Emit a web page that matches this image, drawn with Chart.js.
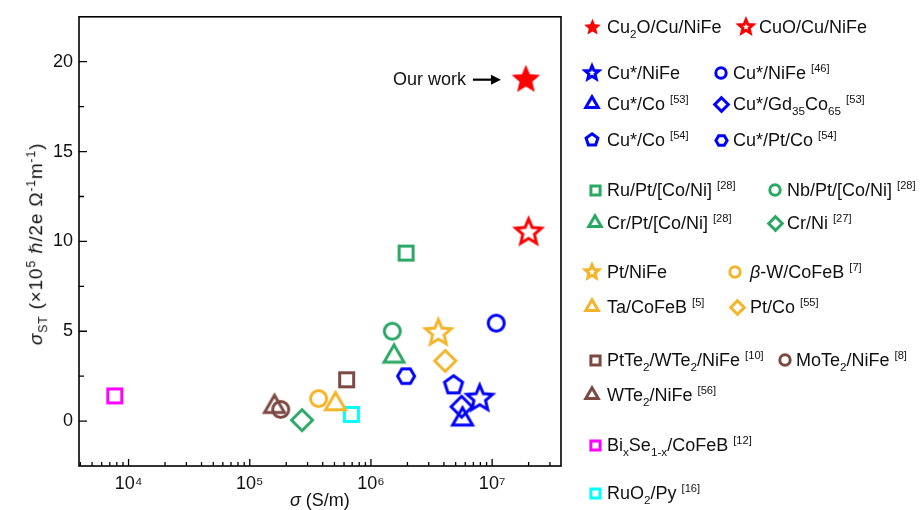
<!DOCTYPE html>
<html lang="en">
<head>
<meta charset="UTF-8">
<title>Charge-to-spin conductivity</title>
<script src="https://cdn.jsdelivr.net/npm/chart.js"></script>
<style>
  body { margin: 0; background: #fff; font-family: "Liberation Sans", Arial, sans-serif; }
  #wrap { position: relative; width: 920px; height: 510px; overflow: hidden; }
  #chart { position: absolute; left: 0; top: 0; }
  .lg { position: absolute; font-size: 18px; line-height: 20px; white-space: nowrap; color: #111; }
  .lg sub, .lg sup, .ttl sub, .ttl sup { font-size: 0.65em; line-height: 0; }
  .lg .ref { font-size: 0.62em; vertical-align: 0.65em; line-height: 0; }
  .mk { position: absolute; }
  .ttl { position: absolute; font-size: 18px; white-space: nowrap; color: #111; }
  #ytitle { font-size: 19px; letter-spacing: 0.8px; }
  .hbar { font-family: "DejaVu Sans", sans-serif; font-style: italic; font-size: 0.95em; }
</style>
</head>
<body>
<div id="wrap">
  <canvas id="chart" width="920" height="510"></canvas>
</div>

<script>
// data
var seriesNames = [
  'Cu<sub>2</sub>O/Cu/NiFe', 'CuO/Cu/NiFe',
  'Cu*/NiFe', 'Cu*/NiFe', 'Cu*/Co', 'Cu*/Gd<sub>35</sub>Co<sub>65</sub>', 'Cu*/Co', 'Cu*/Pt/Co',
  'Ru/Pt/[Co/Ni]', 'Nb/Pt/[Co/Ni]', 'Cr/Pt/[Co/Ni]', 'Cr/Ni',
  'Pt/NiFe', '<i>&beta;</i>-W/CoFeB', 'Ta/CoFeB', 'Pt/Co',
  'PtTe<sub>2</sub>/WTe<sub>2</sub>/NiFe', 'MoTe<sub>2</sub>/NiFe', 'WTe<sub>2</sub>/NiFe',
  'Bi<sub>x</sub>Se<sub>1-x</sub>/CoFeB', 'RuO<sub>2</sub>/Py'
];
var seriesRefs = ['', '', '', '46', '53', '53', '54', '54', '28', '28', '28', '27',
  '', '7', '5', '55', '10', '8', '56', '12', '16'];
var sigmaValues = [1.9e7, 2.0e7, 7.9e6, 1.08e7, 5.7e6, 5.6e6, 4.8e6, 1.95e6,
  1.95e6, 1.5e6, 1.55e6, 2.7e5, 3.6e6, 3.7e5, 5.1e5, 4.1e6,
  6.3e5, 1.8e5, 1.6e5, 7.7e3, 6.9e5];
var sigmaSTValues = [19.0, 10.5, 1.25, 5.45, 0.1, 0.8, 2.0, 2.5,
  9.35, 5.0, 3.6, 0.05, 4.9, 1.25, 0.95, 3.35,
  2.3, 0.65, 0.8, 1.4, 0.37];
var yTicks = [0, 5, 10, 15, 20];
var xDecades = [3, 4, 5, 6, 7];

// styles
var RED = '#ff0000', BLUE = '#0000ff', GREEN = '#2ca865', YEL = '#f5b52a',
    BRN = '#7d4a42', MAG = '#ff00ff', CYA = '#00ffff';
var seriesColors = [RED, RED, BLUE, BLUE, BLUE, BLUE, BLUE, BLUE,
  GREEN, GREEN, GREEN, GREEN, YEL, YEL, YEL, YEL, BRN, BRN, BRN, MAG, CYA];
var seriesShapes = ['star', 'star', 'star', 'circle', 'triangle', 'diamond', 'pentagon', 'hexagon',
  'square', 'circle', 'triangle', 'diamond', 'star', 'circle', 'triangle', 'diamond',
  'square', 'circle', 'triangle', 'square', 'square'];
var seriesFilled = [true];
// legend layout: [marker x, text x, y]
var legendPos = [
  [592, 607, 27], [746, 759, 27],
  [592, 607, 73], [721, 733, 73],
  [592, 607, 104], [721, 733, 104],
  [592, 607, 140], [721, 733, 140],
  [595, 607, 190], [775, 787, 190],
  [595, 607, 223], [775, 787, 223],
  [592, 607, 272], [735, 750, 272],
  [592, 607, 307], [737, 750, 307],
  [595, 607, 360], [785, 796, 360],
  [592, 607, 395],
  [595, 607, 445],
  [595, 607, 493]
];

// marker sizes
var plotSize = { star: 13.5, circle: 8, square: 7, triangle: 11.5, diamond: 10.5, pentagon: 9.5, hexagon: 8.5 };
var legendSize = { star: 7.2, circle: 5.2, square: 4.6, triangle: 7.2, diamond: 6.8, pentagon: 6.2, hexagon: 5.6 };

function makeMarker(shape, color, filled, r, lw) {
  var size = Math.ceil(2 * r + lw * 3 + 4);
  var c = document.createElement('canvas');
  c.width = size; c.height = size;
  var ctx = c.getContext('2d');
  ctx.translate(size / 2, size / 2);
  ctx.beginPath();
  var i, a, n;
  if (shape === 'circle') {
    ctx.arc(0, 0, r, 0, Math.PI * 2);
  } else if (shape === 'square') {
    ctx.rect(-r, -r, 2 * r, 2 * r);
  } else if (shape === 'diamond') {
    ctx.moveTo(0, -r); ctx.lineTo(r, 0); ctx.lineTo(0, r); ctx.lineTo(-r, 0);
  } else if (shape === 'star') {
    for (i = 0; i < 10; i++) {
      a = -Math.PI / 2 + i * Math.PI / 5;
      var rr = i % 2 ? r * 0.45 : r;
      ctx.lineTo(rr * Math.cos(a), rr * Math.sin(a));
    }
  } else {
    n = shape === 'triangle' ? 3 : shape === 'pentagon' ? 5 : 6;
    var start = shape === 'hexagon' ? 0 : -Math.PI / 2;
    for (i = 0; i < n; i++) {
      a = start + i * 2 * Math.PI / n;
      ctx.lineTo(r * Math.cos(a), r * Math.sin(a));
    }
  }
  ctx.closePath();
  if (filled) {
    ctx.fillStyle = color;
    ctx.fill();
  } else {
    ctx.lineWidth = lw;
    ctx.lineJoin = 'miter';
    ctx.miterLimit = 4;
    ctx.strokeStyle = color;
    ctx.stroke();
  }
  return c;
}

function plainText(html) {
  var d = document.createElement('div');
  d.innerHTML = html;
  return d.textContent;
}

var datasets = seriesNames.map(function (name, i) {
  var filled = !!seriesFilled[i];
  var r = plotSize[seriesShapes[i]] + (filled ? 1.5 : 0);
  return {
    label: plainText(name),
    data: [{ x: sigmaValues[i], y: sigmaSTValues[i] }],
    pointStyle: makeMarker(seriesShapes[i], seriesColors[i], filled, r, 3),
    borderColor: seriesColors[i],
    backgroundColor: seriesColors[i]
  };
});

var FONT = '"Liberation Sans", Arial, sans-serif';
var supDigits = { '3': '\u00b3', '4': '\u2074', '5': '\u2075', '6': '\u2076', '7': '\u2077' };

// frame, inward ticks and the "Our work" note
var framePlugin = {
  id: 'frame',
  beforeDatasetsDraw: function (chart) {
    var ctx = chart.ctx, a = chart.chartArea;
    var xs = chart.scales.x, ys = chart.scales.y;
    ctx.save();
    ctx.strokeStyle = '#000';
    ctx.lineWidth = 1.6;
    ctx.strokeRect(a.left, a.top, a.right - a.left, a.bottom - a.top);
    ctx.lineWidth = 1.3;
    ctx.beginPath();
    xs.ticks.forEach(function (t) {
      var px = xs.getPixelForValue(t.value);
      if (px <= a.left + 1 || px >= a.right - 1) return;
      var len = t.major ? 7 : 4;
      ctx.moveTo(px, a.bottom); ctx.lineTo(px, a.bottom - len);
    });
    for (var v = -2.5; v <= 22.5; v += 2.5) {
      var py = ys.getPixelForValue(v);
      if (py >= a.bottom - 1 || py <= a.top + 1) continue;
      var l = (v % 5 === 0) ? 8 : 5;
      ctx.moveTo(a.left, py); ctx.lineTo(a.left + l, py);
    }
    ctx.stroke();
    ctx.restore();
  },
  afterDatasetsDraw: function (chart) {
    var ctx = chart.ctx;
    var pt = chart.getDatasetMeta(0).data[0];
    ctx.save();
    ctx.fillStyle = '#111';
    ctx.font = '18px ' + FONT;
    ctx.textAlign = 'right';
    ctx.textBaseline = 'middle';
    ctx.fillText('Our work', pt.x - 60, pt.y);
    ctx.strokeStyle = '#000';
    ctx.lineWidth = 2.2;
    ctx.beginPath();
    ctx.moveTo(pt.x - 53, pt.y); ctx.lineTo(pt.x - 33, pt.y);
    ctx.stroke();
    ctx.beginPath();
    ctx.moveTo(pt.x - 25, pt.y); ctx.lineTo(pt.x - 35, pt.y - 5); ctx.lineTo(pt.x - 35, pt.y + 5);
    ctx.closePath();
    ctx.fillStyle = '#000';
    ctx.fill();
    ctx.restore();
  }
};

var ctx = document.getElementById('chart').getContext('2d');
var chart = new Chart(ctx, {
  type: 'scatter',
  data: { datasets: datasets },
  options: {
    responsive: false,
    animation: false,
    layout: { padding: { left: 0, top: 10, right: 359, bottom: 0 } },
    plugins: { legend: { display: false }, tooltip: { enabled: false } },
    scales: {
      x: {
        type: 'logarithmic',
        min: 3900,
        max: 3.7e7,
        grid: { display: false, drawTicks: false },
        border: { display: false },
        afterBuildTicks: function (scale) {
          var t = [];
          xDecades.forEach(function (d) {
            for (var m = 1; m <= 9; m++) {
              var v = m * Math.pow(10, d);
              if (v >= scale.min && v <= scale.max) t.push({ value: v, major: m === 1 });
            }
          });
          scale.ticks = t;
        },
        afterFit: function (scale) { scale.height = 44; },
        ticks: {
          autoSkip: false,
          maxRotation: 0,
          padding: 7,
          color: '#111',
          font: { size: 18, family: FONT },
          callback: function (v) {
            var e = Math.round(Math.log10(v));
            if (Math.abs(v - Math.pow(10, e)) > 1e-6 * v) return '';
            return '10' + supDigits[String(e)];
          }
        }
      },
      y: {
        min: -2.5,
        max: 22.5,
        grid: { display: false, drawTicks: false },
        border: { display: false },
        afterBuildTicks: function (scale) {
          scale.ticks = yTicks.map(function (v) { return { value: v }; });
        },
        afterFit: function (scale) { scale.width = 79; },
        ticks: {
          padding: 6,
          color: '#111',
          font: { size: 18, family: FONT }
        }
      }
    }
  },
  plugins: [framePlugin]
});

// axis titles
var wrap = document.getElementById('wrap');
var area = chart.chartArea;
var xt = document.createElement('div');
xt.className = 'ttl';
xt.innerHTML = '<i>&sigma;</i> (S/m)';
wrap.appendChild(xt);
xt.style.left = ((area.left + area.right) / 2 - xt.offsetWidth / 2) + 'px';
xt.style.top = (500 - xt.offsetHeight / 2) + 'px';

var yt = document.createElement('div');
yt.className = 'ttl';
yt.id = 'ytitle';
yt.innerHTML = '<i>&sigma;</i><sub>ST</sub> (&times;10<sup>5</sup> <span class="hbar">&#8463;</span>/2e &Omega;<sup>-1</sup>m<sup>-1</sup>)';
wrap.appendChild(yt);
yt.style.left = (36 - yt.offsetWidth / 2) + 'px';
yt.style.top = (244 - yt.offsetHeight / 2) + 'px';
yt.style.transform = 'rotate(-90deg)';

// legend
seriesNames.forEach(function (name, i) {
  var p = legendPos[i];
  var filled = !!seriesFilled[i];
  var r = legendSize[seriesShapes[i]] + (filled ? 1.5 : 0);
  var m = makeMarker(seriesShapes[i], seriesColors[i], filled, r, 3);
  m.className = 'mk';
  m.style.left = (p[0] - m.width / 2) + 'px';
  m.style.top = (p[2] - m.height / 2) + 'px';
  wrap.appendChild(m);
  var t = document.createElement('div');
  t.className = 'lg';
  t.innerHTML = name + (seriesRefs[i] ? ' <span class="ref">[' + seriesRefs[i] + ']</span>' : '');
  t.style.left = p[1] + 'px';
  t.style.top = (p[2] - 10) + 'px';
  wrap.appendChild(t);
});
</script>
</body>
</html>
